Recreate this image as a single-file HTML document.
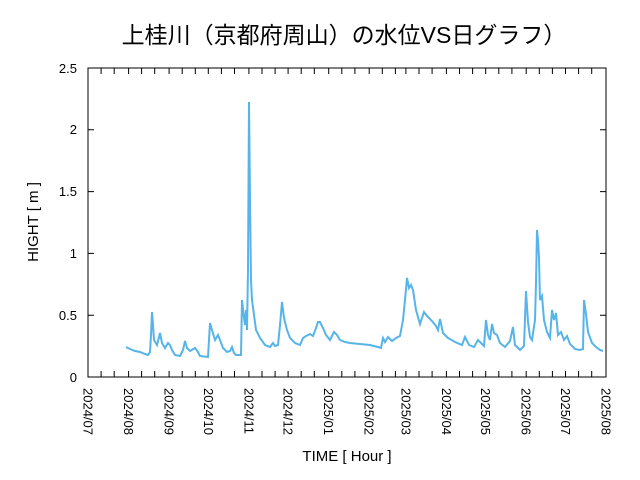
<!DOCTYPE html>
<html><head><meta charset="utf-8"><style>body{margin:0;background:#fff}svg{display:block}</style></head>
<body>
<svg width="640" height="480" xmlns="http://www.w3.org/2000/svg" font-family="Liberation Sans, Noto Sans CJK JP, sans-serif">
<rect width="640" height="480" fill="#fff"/>
<text x="344" y="43" font-size="23" text-anchor="middle" font-family="Liberation Sans, Noto Sans CJK JP, sans-serif">上桂川（京都府周山）の水位VS日グラフ）</text>
<g font-size="13" fill="#000" text-anchor="end">
<text x="77" y="382">0</text>
<text x="77" y="320">0.5</text>
<text x="77" y="258">1</text>
<text x="77" y="196">1.5</text>
<text x="77" y="134">2</text>
<text x="77" y="73">2.5</text>
</g>
<g stroke="#000" stroke-width="1" fill="none">
<path d="M88 315.2h6M88 253.4h6M88 191.6h6M88 129.8h6M606 315.2h-6M606 253.4h-6M606 191.6h-6M606 129.8h-6"/>
<path d="M101.1 377v-6M114.2 377v-6M128.6 377v-6M141.6 377v-6M154.7 377v-6M169.1 377v-6M182.2 377v-6M195.3 377v-6M208.3 377v-6M221.4 377v-6M234.5 377v-6M248.9 377v-6M262 377v-6M275.1 377v-6M288.1 377v-6M301.2 377v-6M314.3 377v-6M328.7 377v-6M341.8 377v-6M354.9 377v-6M369.2 377v-6M382.3 377v-6M395.4 377v-6M405.9 377v-6M419 377v-6M432.1 377v-6M446.4 377v-6M459.5 377v-6M472.6 377v-6M485.7 377v-6M498.8 377v-6M511.9 377v-6M526.2 377v-6M539.3 377v-6M552.4 377v-6M565.5 377v-6M578.6 377v-6M591.7 377v-6
M101.1 68v6M114.2 68v6M128.6 68v6M141.6 68v6M154.7 68v6M169.1 68v6M182.2 68v6M195.3 68v6M208.3 68v6M221.4 68v6M234.5 68v6M248.9 68v6M262 68v6M275.1 68v6M288.1 68v6M301.2 68v6M314.3 68v6M328.7 68v6M341.8 68v6M354.9 68v6M369.2 68v6M382.3 68v6M395.4 68v6M405.9 68v6M419 68v6M432.1 68v6M446.4 68v6M459.5 68v6M472.6 68v6M485.7 68v6M498.8 68v6M511.9 68v6M526.2 68v6M539.3 68v6M552.4 68v6M565.5 68v6M578.6 68v6M591.7 68v6"/>
</g>
<g font-size="13" fill="#000">
<text transform="translate(83.5,388) rotate(90)">2024/07</text>
<text transform="translate(124.1,388) rotate(90)">2024/08</text>
<text transform="translate(164.6,388) rotate(90)">2024/09</text>
<text transform="translate(203.8,388) rotate(90)">2024/10</text>
<text transform="translate(244.4,388) rotate(90)">2024/11</text>
<text transform="translate(283.6,388) rotate(90)">2024/12</text>
<text transform="translate(324.2,388) rotate(90)">2025/01</text>
<text transform="translate(364.7,388) rotate(90)">2025/02</text>
<text transform="translate(401.4,388) rotate(90)">2025/03</text>
<text transform="translate(441.9,388) rotate(90)">2025/04</text>
<text transform="translate(481.2,388) rotate(90)">2025/05</text>
<text transform="translate(521.7,388) rotate(90)">2025/06</text>
<text transform="translate(561,388) rotate(90)">2025/07</text>
<text transform="translate(601.5,388) rotate(90)">2025/08</text>
</g>
<polyline fill="none" stroke="#56b4e9" stroke-width="2" points="126,347 130,349 135,351 140,352 145,354 148,355 150,352 151,335 152,312 153,325 154,340 157,345 160,333 162,343 165,348 168,343 170,345 172,350 175,355 180,356 183,350 185,341 187,348 190,351 195,348 198,352 200,356 208,357 209,340 210,323 212,330 215,340 218,335 220,340 223,348 227,352 230,351 232,347 234,353 236,355 241,355 242,300 244,318 245,325 246,310 247,330 248,270 249,102 250,200 251,280 252,300 254,315 256,330 260,338 265,345 270,347 273,343 275,346 278,345 280,325 282,302 284,318 287,330 290,338 295,343 300,345 303,338 306,336 310,334 313,336 316,328 318,322 320,322 323,328 326,335 330,340 334,332 337,335 340,340 345,342 350,343 360,344 370,345 378,347 381,348 383,338 385,342 388,337 392,341 396,338 400,336 403,320 405,300 407,278 409,288 411,285 413,290 416,310 420,324 424,312 427,316 432,321 436,326 438,330 440,319 443,333 448,338 455,342 462,345 465,337 469,345 474,347 478,340 482,344 484,346 486,320 488,335 490,340 492,324 494,333 497,335 500,343 505,347 510,341 513,327 515,345 520,350 524,346 526,291 528,322 530,337 532,340 535,320 536,283 537,230 538,240 539,258 540,300 542,296 544,320 547,332 550,338 552,310 554,320 556,313 558,335 561,332 564,340 567,336 570,344 575,349 580,350 583,349 584,300 586,314 588,332 592,343 596,347 600,350 603,351"/>
<rect x="88" y="68" width="518" height="309" fill="none" stroke="#000" stroke-width="1"/>
<text x="347" y="461" font-size="15" text-anchor="middle">TIME [ Hour ]</text>
<text transform="translate(38,222) rotate(-90)" font-size="15" text-anchor="middle">HIGHT [ m ]</text>
</svg>
</body></html>
